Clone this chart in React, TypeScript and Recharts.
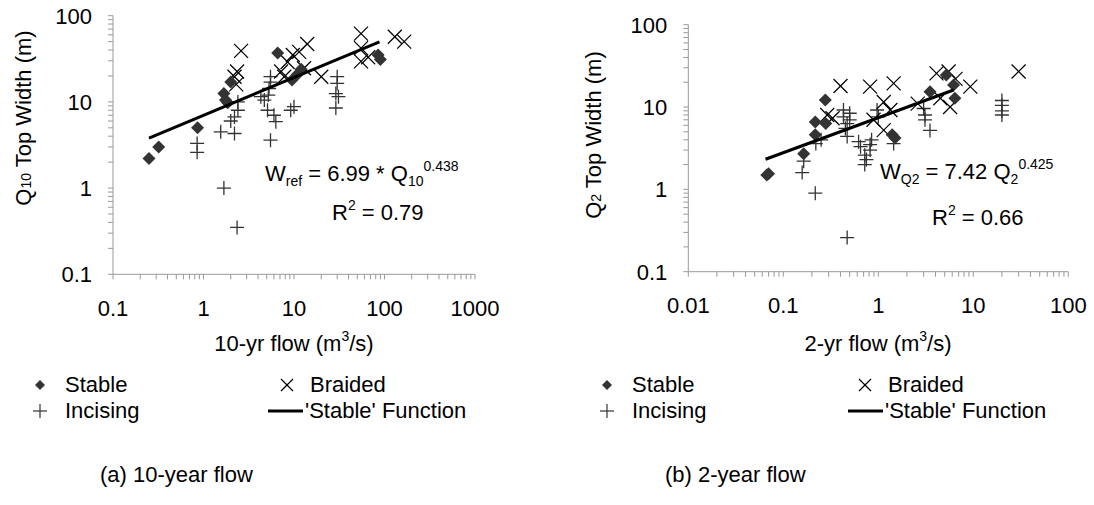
import React from "react";
import { ScatterChart, Scatter, XAxis, YAxis } from "recharts";

// ---------- data ----------
const leftStable = [
  { x: 0.25, y: 2.2 }, { x: 0.32, y: 3.0 }, { x: 0.86, y: 5.0 }, { x: 1.68, y: 12.5 },
  { x: 1.75, y: 10.5 }, { x: 1.85, y: 9.8 }, { x: 2.0, y: 17 }, { x: 6.6, y: 37 },
  { x: 9.5, y: 18 }, { x: 11, y: 21 }, { x: 12, y: 24 }, { x: 85, y: 35 }, { x: 90, y: 31 },
];
const leftBraided = [
  { x: 2.6, y: 39 }, { x: 2.35, y: 22.5 }, { x: 2.2, y: 19.6 }, { x: 2.3, y: 16 },
  { x: 14, y: 47 }, { x: 11.4, y: 38 }, { x: 9.7, y: 35 }, { x: 8.5, y: 29 },
  { x: 7.2, y: 22.5 }, { x: 7.8, y: 19.6 }, { x: 12.9, y: 24.6 }, { x: 20, y: 19.6 },
  { x: 55, y: 62 }, { x: 55, y: 42 }, { x: 55, y: 29.5 }, { x: 66, y: 33 },
  { x: 130, y: 57 }, { x: 165, y: 50 },
];
const leftIncising = [
  { x: 0.85, y: 3.3 }, { x: 0.85, y: 2.6 }, { x: 1.55, y: 4.5 }, { x: 1.68, y: 1.0 },
  { x: 2.2, y: 4.3 }, { x: 2.2, y: 6.7 }, { x: 2.0, y: 6.0 }, { x: 2.4, y: 8.0 }, { x: 2.4, y: 10 },
  { x: 2.35, y: 0.35 }, { x: 4.3, y: 11.5 }, { x: 4.7, y: 10.5 }, { x: 5.1, y: 8.0 },
  { x: 5.3, y: 14.3 }, { x: 5.5, y: 17 }, { x: 5.5, y: 19.6 }, { x: 5.5, y: 3.6 },
  { x: 6.0, y: 7.0 }, { x: 6.3, y: 5.9 }, { x: 9.2, y: 8 }, { x: 10, y: 8.8 },
  { x: 29, y: 12.5 }, { x: 29, y: 8.5 }, { x: 30, y: 19.6 }, { x: 30, y: 16.4 },
  { x: 31, y: 11.5 }, { x: 5.2, y: 12 },
];
const leftFit = [{ x: 0.25, y: 3.81 }, { x: 88, y: 49.7 }];

const rightStable = [
  { x: 0.067, y: 1.49 }, { x: 0.07, y: 1.55 }, { x: 0.164, y: 2.7 }, { x: 0.217, y: 4.6 },
  { x: 0.217, y: 6.6 }, { x: 0.277, y: 12.2 }, { x: 0.28, y: 6.3 }, { x: 1.4, y: 4.6 },
  { x: 1.5, y: 4.2 }, { x: 3.5, y: 15.3 }, { x: 5.2, y: 24.5 }, { x: 6.2, y: 18.5 },
  { x: 6.4, y: 12.8 },
];
const rightBraided = [
  { x: 0.29, y: 8.0 }, { x: 0.33, y: 7.3 }, { x: 0.4, y: 18 }, { x: 0.82, y: 17.7 },
  { x: 1.45, y: 19.4 }, { x: 1.14, y: 11.5 }, { x: 1.34, y: 9.2 }, { x: 0.89, y: 7.0 },
  { x: 1.14, y: 5.25 }, { x: 2.6, y: 11 }, { x: 4.1, y: 25.6 }, { x: 4.5, y: 12.8 },
  { x: 5.7, y: 10 }, { x: 9.3, y: 17.7 }, { x: 5.5, y: 27 }, { x: 6.5, y: 22 }, { x: 30, y: 27 },
];
const rightIncising = [
  { x: 0.158, y: 1.6 }, { x: 0.164, y: 2.2 }, { x: 0.217, y: 0.9 }, { x: 0.22, y: 3.6 },
  { x: 0.25, y: 4.0 }, { x: 0.43, y: 7.6 }, { x: 0.47, y: 6.3 }, { x: 0.45, y: 5.5 },
  { x: 0.47, y: 4.4 }, { x: 0.47, y: 0.26 }, { x: 0.5, y: 8.4 }, { x: 0.5, y: 7.0 },
  { x: 0.43, y: 9.2 }, { x: 0.62, y: 3.8 }, { x: 0.65, y: 3.3 }, { x: 0.72, y: 2.6 },
  { x: 0.72, y: 2.0 }, { x: 0.82, y: 3.0 }, { x: 0.82, y: 3.5 }, { x: 0.85, y: 4.0 },
  { x: 0.75, y: 2.3 }, { x: 1.45, y: 3.6 }, { x: 0.97, y: 9.2 }, { x: 1.0, y: 7.6 },
  { x: 3.0, y: 9.6 }, { x: 3.1, y: 8.0 }, { x: 3.1, y: 7.0 }, { x: 3.5, y: 5.2 },
  { x: 20, y: 12 }, { x: 20, y: 10.5 }, { x: 20, y: 9 }, { x: 20, y: 8 },
];
const rightFit = [{ x: 0.065, y: 2.32 }, { x: 6.2, y: 16.1 }];

const leftXDecades = [0.1, 1, 10, 100, 1000];
const leftXLabels = ["0.1", "1", "10", "100", "1000"];
const rightXDecades = [0.01, 0.1, 1, 10, 100];
const rightXLabels = ["0.01", "0.1", "1", "10", "100"];
const yDecades = [0.1, 1, 10, 100];
const yLabels = ["0.1", "1", "10", "100"];

// ---------- helpers ----------
const FONT = "'Liberation Sans', Arial, sans-serif";
const AXIS = "#999";

function logTicks(decades: number[]) {
  const out: number[] = [];
  decades.forEach((d, i) => {
    if (i === decades.length - 1) { out.push(d); return; }
    for (let m = 1; m <= 9; m++) out.push(Number((m * d).toPrecision(3)));
  });
  return out;
}
function fmt(decades: number[], labels: string[]) {
  return (v: number) => {
    const i = decades.findIndex((d) => Math.abs(d - v) / d < 1e-6);
    return i >= 0 ? labels[i] : "";
  };
}

const Diamond = (p: any) => {
  const { cx, cy } = p;
  if (cx == null || cy == null) return <g />;
  return <polygon points={`${cx},${cy - 6.5} ${cx + 6.5},${cy} ${cx},${cy + 6.5} ${cx - 6.5},${cy}`} fill="#333" />;
};
const Cross = (p: any) => {
  const { cx, cy } = p;
  if (cx == null || cy == null) return <g />;
  const s = 7;
  return (
    <g stroke="#000" strokeWidth={1.2}>
      <line x1={cx - s} y1={cy - s} x2={cx + s} y2={cy + s} />
      <line x1={cx - s} y1={cy + s} x2={cx + s} y2={cy - s} />
    </g>
  );
};
const Plus = (p: any) => {
  const { cx, cy } = p;
  if (cx == null || cy == null) return <g />;
  const s = 7;
  return (
    <g stroke="#333" strokeWidth={1.3}>
      <line x1={cx - s} y1={cy} x2={cx + s} y2={cy} />
      <line x1={cx} y1={cy - s} x2={cx} y2={cy + s} />
    </g>
  );
};
const NoShape = () => <g />;

const tickStyle = { fontSize: 22, fill: "#000", fontFamily: FONT };

function Panel(props: {
  stable: any[]; braided: any[]; incising: any[]; fit: any[];
  xDec: number[]; xLab: string[]; margin: any; yWidth: number; xHeight: number;
}) {
  const { stable, braided, incising, fit, xDec, xLab, margin, yWidth, xHeight } = props;
  return (
    <ScatterChart width={547} height={340} margin={margin}>
      <XAxis
        type="number" dataKey="x" scale="log" domain={[xDec[0], xDec[xDec.length - 1]]}
        ticks={logTicks(xDec)} tickFormatter={fmt(xDec, xLab)} interval={0}
        allowDataOverflow height={xHeight} stroke={AXIS} tickSize={5} tickMargin={21}
        tick={tickStyle} tickLine={{ stroke: AXIS }}
      />
      <YAxis
        type="number" dataKey="y" scale="log" domain={[0.1, 100]}
        ticks={logTicks(yDecades)} tickFormatter={fmt(yDecades, yLabels)} interval={0}
        allowDataOverflow width={yWidth} stroke={AXIS} tickSize={5} tickMargin={16}
        tick={tickStyle} tickLine={{ stroke: AXIS }}
      />
      <Scatter name="Incising" data={incising} shape={Plus} isAnimationActive={false} />
      <Scatter name="Braided" data={braided} shape={Cross} isAnimationActive={false} />
      <Scatter name="Stable" data={stable} shape={Diamond} isAnimationActive={false} />
      <Scatter name="'Stable' Function" data={fit} shape={NoShape} line={{ stroke: "#000", strokeWidth: 3 }} lineType="joint" isAnimationActive={false} />
    </ScatterChart>
  );
}

const txt = (left: number, top: number, extra: any = {}): any => ({
  position: "absolute", left, top, fontSize: 22, lineHeight: "22px", fontFamily: FONT,
  color: "#000", whiteSpace: "nowrap", ...extra,
});
const sub: any = { fontSize: 14, position: "relative", top: 5 };
const sup: any = { fontSize: 14, position: "relative", top: -10 };

function LegendBlock({ x0, x1, lineX }: { x0: number; x1: number; lineX: number }) {
  return (
    <>
      <svg style={{ position: "absolute", left: x0 - 8, top: 377 }} width={16} height={16}>
        <polygon points="8,3 13,8 8,13 3,8" fill="#333" />
      </svg>
      <div style={txt(x0 + 25, 374)}>Stable</div>
      <svg style={{ position: "absolute", left: x0 - 8, top: 403 }} width={16} height={16}>
        <g stroke="#333" strokeWidth={1.2}><line x1={1} y1={8} x2={15} y2={8} /><line x1={8} y1={1} x2={8} y2={15} /></g>
      </svg>
      <div style={txt(x0 + 25, 400)}>Incising</div>
      <svg style={{ position: "absolute", left: x1 - 8, top: 377 }} width={16} height={16}>
        <g stroke="#000" strokeWidth={1.2}><line x1={2} y1={2} x2={14} y2={14} /><line x1={2} y1={14} x2={14} y2={2} /></g>
      </svg>
      <div style={txt(x1 + 23, 374)}>Braided</div>
      <svg style={{ position: "absolute", left: lineX, top: 403 }} width={36} height={16}>
        <line x1={0} y1={8} x2={35} y2={8} stroke="#000" strokeWidth={3} />
      </svg>
      <div style={txt(lineX + 37, 400)}>'Stable' Function</div>
    </>
  );
}

export default function App() {
  return (
    <div style={{ position: "absolute", left: 0, top: 0, width: 1094, height: 505, background: "#fff", fontFamily: FONT }}>
      <div style={{ position: "absolute", left: 0, top: 0 }}>
        <Panel stable={leftStable} braided={leftBraided} incising={leftIncising} fit={leftFit}
          xDec={leftXDecades} xLab={leftXLabels}
          margin={{ top: 15.7, right: 72, bottom: 0, left: 0 }} yWidth={113} xHeight={65.7} />
      </div>
      <div style={{ position: "absolute", left: 547, top: 0 }}>
        <Panel stable={rightStable} braided={rightBraided} incising={rightIncising} fit={rightFit}
          xDec={rightXDecades} xLab={rightXLabels}
          margin={{ top: 24.7, right: 25.7, bottom: 0, left: 0 }} yWidth={141.3} xHeight={68.3} />
      </div>

      {/* y-axis titles */}
      <div style={txt(25, 118, { transform: "translate(-50%, -50%) rotate(-90deg)" })}>
        Q<span style={{ fontSize: 14 }}>10</span> Top Width (m)
      </div>
      <div style={txt(595, 135, { transform: "translate(-50%, -50%) rotate(-90deg)" })}>
        Q<span style={{ fontSize: 14 }}>2</span> Top Width (m)
      </div>

      {/* x-axis titles */}
      <div style={txt(294, 333, { transform: "translateX(-50%)" })}>
        10-yr flow (m<span style={sup}>3</span>/s)
      </div>
      <div style={txt(878, 333, { transform: "translateX(-50%)" })}>
        2-yr flow (m<span style={sup}>3</span>/s)
      </div>

      {/* fit annotations */}
      <div style={txt(265, 163)}>
        W<span style={sub}>ref</span> = 6.99 * Q<span style={sub}>10</span><span style={sup}>0.438</span>
      </div>
      <div style={txt(332, 202)}>
        R<span style={sup}>2</span> = 0.79
      </div>
      <div style={txt(880, 161)}>
        W<span style={sub}>Q2</span> = 7.42 Q<span style={sub}>2</span><span style={sup}>0.425</span>
      </div>
      <div style={txt(932, 207)}>
        R<span style={sup}>2</span> = 0.66
      </div>

      <LegendBlock x0={40} x1={287} lineX={268} />
      <LegendBlock x0={607} x1={865} lineX={848} />

      <div style={txt(100, 464)}>(a) 10-year flow</div>
      <div style={txt(665, 464)}>(b) 2-year flow</div>
    </div>
  );
}
